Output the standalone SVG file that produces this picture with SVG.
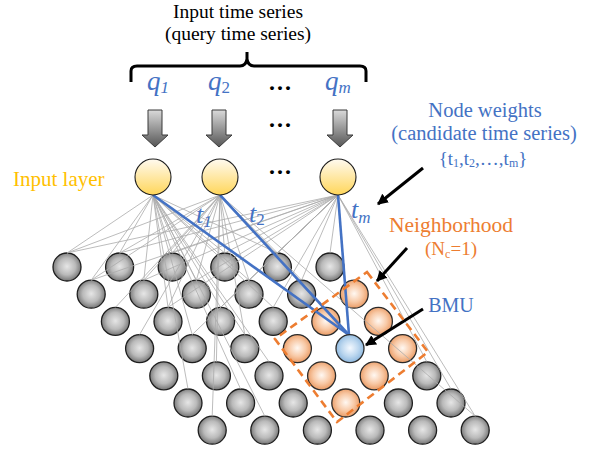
<svg xmlns="http://www.w3.org/2000/svg" width="589" height="451" viewBox="0 0 589 451">
<style>
.serif{font-family:"Liberation Serif","DejaVu Serif",serif}
.blue{fill:#4472C4}
.orange{fill:#ED7D31}
.gold{fill:#FFC000}
.dots{font-family:"Liberation Serif","DejaVu Serif",serif;font-size:24px;font-weight:bold;fill:#000}
.gl line{stroke:#ababab;stroke-width:0.8}
.bl{stroke:#4472C4;stroke-width:2.6;fill:none}
.g{fill:url(#gg);stroke:#1e1e1e;stroke-width:1.3}
.o{fill:url(#og);stroke:#2a2a2a;stroke-width:1.3}
.b{fill:url(#bg);stroke:#2a2a2a;stroke-width:1.3}
.inp{fill:url(#yg);stroke:#1e1e1e;stroke-width:1.1}
.ar{fill:url(#ag);stroke:#3a3a3a;stroke-width:1}
.blk{stroke:#000;stroke-width:3;fill:none}
.math{font-family:"Liberation Serif","DejaVu Serif",serif;font-style:italic;fill:#4472C4}
</style>
<defs>
<radialGradient id="gg" cx="50%" cy="48%" r="55%">
<stop offset="0" stop-color="#e6e6e6"/><stop offset="0.55" stop-color="#bababa"/><stop offset="1" stop-color="#6c6c6c"/>
</radialGradient>
<radialGradient id="og" cx="50%" cy="48%" r="55%">
<stop offset="0" stop-color="#fff8f2"/><stop offset="0.55" stop-color="#f8c9a6"/><stop offset="1" stop-color="#e8955c"/>
</radialGradient>
<radialGradient id="bg" cx="50%" cy="48%" r="55%">
<stop offset="0" stop-color="#f4f9ff"/><stop offset="0.55" stop-color="#bcd7ef"/><stop offset="1" stop-color="#86b3dc"/>
</radialGradient>
<linearGradient id="yg" x1="0" y1="0" x2="0" y2="1">
<stop offset="0" stop-color="#fffaf0"/><stop offset="1" stop-color="#ffd659"/>
</linearGradient>
<linearGradient id="ag" x1="0" y1="0" x2="0" y2="1">
<stop offset="0" stop-color="#dadada"/><stop offset="1" stop-color="#555"/>
</linearGradient>
<marker id="ah" viewBox="0 0 10 10" refX="9" refY="5" markerWidth="3.6" markerHeight="3.6" orient="auto">
<path d="M0,0 L10,5 L0,10 z" fill="#000"/>
</marker>
</defs>

<g id="title">
<text class="serif" x="238" y="18" font-size="19.5" text-anchor="middle" fill="#000">Input time series</text>
<text class="serif" x="238" y="40" font-size="19.5" text-anchor="middle" fill="#000">(query time series)</text>
<path d="M131,82 L131,71 Q131,66 137,66 L240,66 Q246,66 247,59 L247,52 L247,59 Q248,66 254,66 L360,66 Q366,66 366,71 L366,82" fill="none" stroke="#000" stroke-width="3"/>
</g>

<g id="q-labels">
<text class="math" x="147" y="90" font-size="27">q<tspan font-size="17" dy="3">1</tspan></text>
<text class="math" x="208" y="90" font-size="27">q<tspan font-size="17" dy="3" font-style="normal">2</tspan></text>
<text class="math" x="325" y="90" font-size="27">q<tspan font-size="17" dy="3">m</tspan></text>
<text class="dots" x="280" y="96" text-anchor="middle">···</text>
</g>

<g id="input-arrows">
<path class="ar" d="M148,110 H162 V135 H168 L155,147 L142,135 H148 Z"/>
<path class="ar" d="M212,110 H226 V135 H232 L219,147 L206,135 H212 Z"/>
<path class="ar" d="M333,110 H347 V135 H353 L340,147 L327,135 H333 Z"/>
<text class="dots" x="280" y="133" text-anchor="middle">···</text>
</g>

<g id="grid-nodes">
<circle class="g" cx="67" cy="267" r="14"/><circle class="g" cx="119.6" cy="267" r="14"/><circle class="g" cx="172.2" cy="267" r="14"/><circle class="g" cx="224.8" cy="267" r="14"/><circle class="g" cx="277.4" cy="267" r="14"/><circle class="g" cx="330" cy="267" r="14"/>
<circle class="g" cx="91.2" cy="294.2" r="14"/><circle class="g" cx="143.8" cy="294.2" r="14"/><circle class="g" cx="196.4" cy="294.2" r="14"/><circle class="g" cx="249" cy="294.2" r="14"/><circle class="g" cx="301.6" cy="294.2" r="14"/><circle class="o" cx="354.2" cy="294.2" r="14"/>
<circle class="g" cx="115.4" cy="321.4" r="14"/><circle class="g" cx="168" cy="321.4" r="14"/><circle class="g" cx="220.6" cy="321.4" r="14"/><circle class="g" cx="273.2" cy="321.4" r="14"/><circle class="o" cx="325.8" cy="321.4" r="14"/><circle class="o" cx="378.4" cy="321.4" r="14"/>
<circle class="g" cx="139.6" cy="348.6" r="14"/><circle class="g" cx="192.2" cy="348.6" r="14"/><circle class="g" cx="244.8" cy="348.6" r="14"/><circle class="o" cx="297.4" cy="348.6" r="14"/><circle class="o" cx="402.6" cy="348.6" r="14"/>
<circle class="g" cx="163.8" cy="375.8" r="14"/><circle class="g" cx="216.4" cy="375.8" r="14"/><circle class="g" cx="269" cy="375.8" r="14"/><circle class="o" cx="321.6" cy="375.8" r="14"/><circle class="o" cx="374.2" cy="375.8" r="14"/><circle class="g" cx="426.8" cy="375.8" r="14"/>
<circle class="g" cx="188" cy="403" r="14"/><circle class="g" cx="240.6" cy="403" r="14"/><circle class="g" cx="293.2" cy="403" r="14"/><circle class="o" cx="345.8" cy="403" r="14"/><circle class="g" cx="398.4" cy="403" r="14"/><circle class="g" cx="451" cy="403" r="14"/>
<circle class="g" cx="212.2" cy="430.2" r="14"/><circle class="g" cx="264.8" cy="430.2" r="14"/><circle class="g" cx="317.4" cy="430.2" r="14"/><circle class="g" cx="370" cy="430.2" r="14"/><circle class="g" cx="422.6" cy="430.2" r="14"/><circle class="g" cx="475.2" cy="430.2" r="14"/>
</g>

<g id="connectors">
<g class="gl">
<line x1="153" y1="195" x2="67" y2="253"/><line x1="153" y1="195" x2="119.6" y2="253"/><line x1="153" y1="195" x2="172.2" y2="253"/><line x1="153" y1="195" x2="224.8" y2="253"/>
<line x1="153" y1="195" x2="91.2" y2="280.2"/><line x1="153" y1="195" x2="143.8" y2="280.2"/><line x1="153" y1="195" x2="196.4" y2="280.2"/><line x1="153" y1="195" x2="249" y2="280.2"/>
<line x1="153" y1="195" x2="168" y2="307.4"/><line x1="153" y1="195" x2="220.6" y2="307.4"/><line x1="153" y1="195" x2="273.2" y2="307.4"/>
<line x1="153" y1="195" x2="192.2" y2="334.6"/><line x1="153" y1="195" x2="244.8" y2="334.6"/><line x1="153" y1="195" x2="269" y2="361.8"/>
<line x1="153" y1="195" x2="188" y2="389"/><line x1="153" y1="195" x2="240.6" y2="389"/><line x1="153" y1="195" x2="264.8" y2="416.2"/><line x1="153" y1="195" x2="277.4" y2="253"/>
<line x1="220" y1="195" x2="67" y2="253"/><line x1="220" y1="195" x2="119.6" y2="253"/><line x1="220" y1="195" x2="172.2" y2="253"/><line x1="220" y1="195" x2="224.8" y2="253"/><line x1="220" y1="195" x2="277.4" y2="253"/>
<line x1="220" y1="195" x2="91.2" y2="280.2"/><line x1="220" y1="195" x2="143.8" y2="280.2"/><line x1="220" y1="195" x2="196.4" y2="280.2"/><line x1="220" y1="195" x2="249" y2="280.2"/><line x1="220" y1="195" x2="301.6" y2="280.2"/>
<line x1="220" y1="195" x2="115.4" y2="307.4"/><line x1="220" y1="195" x2="168" y2="307.4"/><line x1="220" y1="195" x2="139.6" y2="334.6"/><line x1="220" y1="195" x2="244.8" y2="334.6"/>
<line x1="220" y1="195" x2="216.4" y2="361.8"/><line x1="220" y1="195" x2="212.2" y2="416.2"/><line x1="220" y1="195" x2="475.2" y2="416.2"/>
<line x1="338" y1="195" x2="67" y2="253"/><line x1="338" y1="195" x2="119.6" y2="253"/><line x1="338" y1="195" x2="172.2" y2="253"/><line x1="338" y1="195" x2="224.8" y2="253"/><line x1="338" y1="195" x2="277.4" y2="253"/><line x1="338" y1="195" x2="330" y2="253"/>
<line x1="338" y1="195" x2="91.2" y2="280.2"/><line x1="338" y1="195" x2="143.8" y2="280.2"/><line x1="338" y1="195" x2="196.4" y2="280.2"/><line x1="338" y1="195" x2="249" y2="280.2"/><line x1="338" y1="195" x2="301.6" y2="280.2"/>
<line x1="338" y1="195" x2="168" y2="307.4"/><line x1="338" y1="195" x2="220.6" y2="307.4"/><line x1="338" y1="195" x2="273.2" y2="307.4"/><line x1="338" y1="195" x2="192.2" y2="334.6"/>
<line x1="338" y1="195" x2="426.8" y2="361.8"/><line x1="338" y1="195" x2="451" y2="389"/><line x1="338" y1="195" x2="475.2" y2="416.2"/>
</g>
<line class="bl" x1="153" y1="195" x2="349" y2="335"/>
<line class="bl" x1="220" y1="195" x2="349" y2="335"/>
<line class="bl" x1="338" y1="195" x2="349" y2="335"/>
<line class="blk" x1="423" y1="168" x2="378" y2="204" marker-end="url(#ah)"/>
<line class="blk" x1="407" y1="248" x2="377" y2="281" marker-end="url(#ah)"/>
<line class="blk" x1="423" y1="309" x2="366" y2="345" marker-end="url(#ah)"/>
</g>

<g id="input-layer">
<circle class="inp" cx="153" cy="177" r="18"/>
<circle class="inp" cx="220" cy="177" r="18"/>
<circle class="inp" cx="338" cy="177" r="18"/>
<text class="dots" x="280" y="180" text-anchor="middle">···</text>
<text class="serif gold" x="13" y="186" font-size="21">Input layer</text>
</g>

<g id="bmu">
<circle class="b" cx="350" cy="348.6" r="14"/>
</g>

<g id="neighborhood">
<polygon points="367,272 428,352 337,422 275,339" fill="none" stroke="#ED7D31" stroke-width="2.6" stroke-dasharray="8,5"/>
</g>

<g id="weight-labels">
<text class="math" x="196" y="223" font-size="26">t<tspan font-size="17" dy="4">1</tspan></text>
<text class="math" x="249" y="222" font-size="26">t<tspan font-size="17" dy="3" font-style="normal">2</tspan></text>
<text class="math" x="351" y="218" font-size="26">t<tspan font-size="17" dy="5">m</tspan></text>
</g>

<g id="node-weights-label">
<text class="serif blue" x="485" y="117" font-size="20.5" text-anchor="middle">Node weights</text>
<text class="serif blue" x="484" y="140" font-size="20.5" text-anchor="middle">(candidate time series)</text>
<text class="serif blue" x="483" y="165" font-size="19" text-anchor="middle">{t<tspan font-size="12" dy="2">1</tspan><tspan dy="-2">,t</tspan><tspan font-size="12" dy="2">2</tspan><tspan dy="-2">,…,t</tspan><tspan font-size="12" dy="2">m</tspan><tspan dy="-2">}</tspan></text>
</g>

<g id="neighborhood-label">
<text class="serif orange" x="451" y="232" font-size="21.5" text-anchor="middle">Neighborhood</text>
<text class="serif orange" x="451" y="255" font-size="19" text-anchor="middle">(N<tspan font-size="12" dy="3">c</tspan><tspan dy="-3">=1)</tspan></text>
</g>

<g id="bmu-label">
<text class="serif blue" x="451" y="312" font-size="20" text-anchor="middle">BMU</text>
</g>
</svg>
